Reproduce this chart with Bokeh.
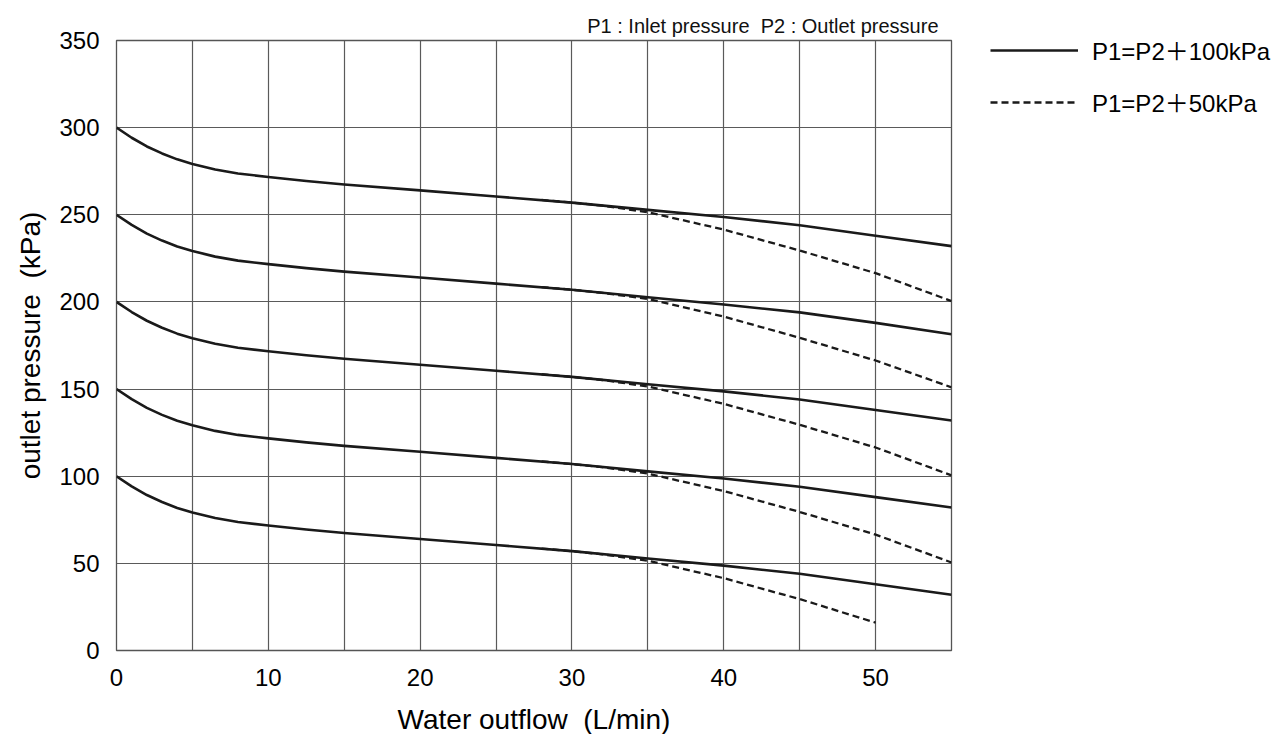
from bokeh.plotting import figure
from bokeh.models import Range1d, FixedTicker, Legend, LegendItem
from bokeh.embed import file_html
from bokeh.resources import INLINE

# Water outflow (L/min) sample points for the P1=P2+100kPa curves
flow_solid = [0, 1, 2, 3, 4, 5, 6.5, 8, 10, 12.5, 15, 20, 25, 30, 35, 40, 45, 50, 55]
solid_300 = [300, 294.2, 289.2, 285.2, 281.8, 279.2, 276, 273.7, 271.7, 269.4, 267.4, 264, 260.5, 257, 252.8, 248.7, 244, 238, 232]
solid_250 = [250, 244.2, 239.2, 235.2, 231.8, 229.2, 226, 223.7, 221.7, 219.4, 217.4, 214, 210.5, 207, 202.7, 198.5, 194, 188, 181.5]
solid_200 = [200, 194.2, 189.2, 185.2, 181.8, 179.2, 176, 173.7, 171.7, 169.4, 167.4, 164, 160.5, 157, 152.8, 148.7, 144, 138, 132]
solid_150 = [150, 144.2, 139.2, 135.2, 131.8, 129.2, 126, 123.7, 121.7, 119.4, 117.4, 114, 110.5, 107, 102.8, 98.7, 94, 88, 82]
solid_100 = [100, 94.2, 89.2, 85.2, 81.8, 79.2, 76, 73.7, 71.7, 69.4, 67.4, 64, 60.5, 57, 52.8, 48.7, 44, 38, 32]

# P1=P2+50kPa curves (branch off near 28 L/min)
flow_dash = [28, 30, 32, 35, 40, 45, 50, 55]
dash_300 = [258.5, 257, 255.2, 251.5, 241.5, 229.5, 216.5, 200.5]
dash_250 = [208.5, 207, 205.2, 201.7, 191.6, 179.4, 166.4, 151]
dash_200 = [158.5, 157, 155.2, 151.5, 141.5, 129.5, 116.5, 100.5]
dash_150 = [108.5, 107, 105.2, 101.5, 91.5, 79.5, 66.5, 50.5]
flow_dash_100 = [28, 30, 32, 35, 40, 45, 50]
dash_100 = [58.5, 57, 55.2, 51.5, 41.5, 29.5, 16]

x_ticks = [0, 10, 20, 30, 40, 50]
x_grid = [5, 10, 15, 20, 25, 30, 35, 40, 45, 50]
y_ticks = [0, 50, 100, 150, 200, 250, 300, 350]

legend_labels = ["P1=P2\uff0b100kPa", "P1=P2\uff0b50kPa"]
note_text = "P1 : Inlet pressure\u00a0\u00a0P2 : Outlet pressure"
x_label = "Water outflow\u00a0\u00a0(L/min)"
y_label = "outlet pressure\u00a0\u00a0(kPa)"

FONT = "'Liberation Sans', Arial, sans-serif"
LEGFONT = "'Liberation Sans', 'Noto Sans CJK JP', Arial, sans-serif"
INK = "#1a1a1a"

p = figure(frame_width=835, frame_height=610, output_backend="svg", toolbar_location=None,
           x_range=Range1d(0, 55), y_range=Range1d(0, 350),
           min_border_left=116, min_border_right=0, min_border_top=40, min_border_bottom=76)

p.background_fill_color = "white"
p.border_fill_color = "white"
p.outline_line_color = "#555555"
p.outline_line_width = 1.3

p.title.text = note_text
p.title.align = "right"
p.title.offset = 13
p.title.standoff = 8
p.title.text_font = FONT
p.title.text_font_size = "20px"
p.title.text_font_style = "normal"
p.title.text_color = "#111111"

p.xaxis.ticker = FixedTicker(ticks=x_ticks)
p.yaxis.ticker = FixedTicker(ticks=y_ticks)
p.xgrid.ticker = FixedTicker(ticks=x_grid)
p.ygrid.ticker = FixedTicker(ticks=y_ticks[1:-1])
for g in (p.xgrid, p.ygrid):
    g.grid_line_color = "#5a5a5a"
    g.grid_line_width = 1.2

for ax in (p.xaxis, p.yaxis):
    ax.axis_line_color = None
    ax.major_tick_line_color = None
    ax.minor_tick_line_color = None
    ax.major_label_text_font = FONT
    ax.major_label_text_font_size = "24px"
    ax.major_label_text_color = "black"
    ax.axis_label_text_font = FONT
    ax.axis_label_text_font_size = "28px"
    ax.axis_label_text_font_style = "normal"
    ax.axis_label_text_color = "black"

p.xaxis.major_label_standoff = 12
p.yaxis.major_label_standoff = 11
p.xaxis.axis_label = x_label
p.yaxis.axis_label = y_label
p.xaxis.axis_label_standoff = 15
p.yaxis.axis_label_standoff = 10

solid_renderers = []
for ys in (solid_300, solid_250, solid_200, solid_150, solid_100):
    r = p.line(flow_solid, ys, line_color=INK, line_width=2.6, line_join="round")
    solid_renderers.append(r)

dash_renderers = []
for xs, ys in ((flow_dash, dash_300), (flow_dash, dash_250), (flow_dash, dash_200),
               (flow_dash, dash_150), (flow_dash_100, dash_100)):
    r = p.line(xs, ys, line_color=INK, line_width=2.3, line_dash="7 4")
    dash_renderers.append(r)

legend = Legend(items=[LegendItem(label=legend_labels[0], renderers=[solid_renderers[0]]),
                       LegendItem(label=legend_labels[1], renderers=[dash_renderers[0]])],
                location=(39, 531), orientation="vertical",
                glyph_width=88, glyph_height=20, label_height=20, label_standoff=14,
                spacing=17, padding=0, margin=0,
                label_text_font=LEGFONT, label_text_font_size="24px", label_text_color="black",
                background_fill_alpha=0, border_line_color=None)
p.add_layout(legend, "right")

open("out.html", "w").write(file_html(p, INLINE))
